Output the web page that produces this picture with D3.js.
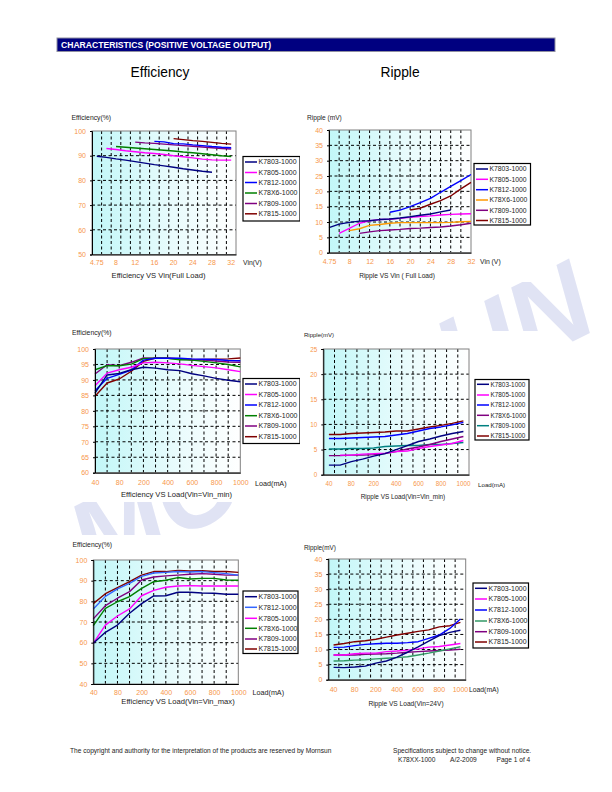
<!DOCTYPE html>
<html><head><meta charset="utf-8">
<script src="https://cdn.jsdelivr.net/npm/d3@7"></script>
<style>body{margin:0;background:#fff} svg{display:block} text{font-family:"Liberation Sans",Arial,sans-serif}</style>
</head><body><svg id="c" width="612" height="792"></svg>
<script>
// ---------- categories & tick labels ----------
const vinCats = ["4.75","6","8","10","12","14","16","18","20","22","24","26","28","30","32"];
const vinTickLabels = ["4.75","8","12","16","20","24","28","32"];
const loadCats = ["40","60","80","100","200","300","400","500","600","700","800","900","1000"];
const loadTickLabels = ["40","80","200","400","600","800","1000"];
const N = null;

// ---------- Efficiency VS Vin (Full Load) ----------
const effVin_K7803 = [89.8,89.3,88.7,88.2,87.6,87.0,86.4,85.9,85.3,84.7,84.2,83.7,83.3,N,N];
const effVin_K7805 = [N,92.9,92.5,92.0,91.6,91.2,90.9,90.5,90.0,89.6,89.1,88.6,88.3,88.2,88.2];
const effVin_K7812 = [N,N,N,N,N,N,95.8,95.6,94.9,94.8,94.4,94.1,93.7,93.4,93.2];
const effVin_K78X6 = [N,N,93.7,93.4,93.1,92.8,92.5,92.2,91.9,91.5,91.2,90.8,90.4,90.0,89.7];
const effVin_K7809 = [N,N,N,N,95.5,95.2,95.0,94.7,94.4,94.1,93.8,93.5,93.2,92.9,92.7];
const effVin_K7815 = [N,N,N,N,N,N,N,N,96.9,96.5,96.1,95.8,95.4,95.0,94.7];

// ---------- Ripple VS Vin (Full Load) ----------
const ripVin_K7803 = [8.2,9.3,9.9,10.3,10.4,10.8,11.0,11.3,11.7,12.2,12.6,13.3,13.9,N,N];
const ripVin_K7805 = [N,6.3,7.9,9.6,10.4,10.8,10.9,11.2,11.5,11.8,12.0,12.3,12.5,12.6,12.7];
const ripVin_K7812 = [N,N,N,N,N,N,13.2,13.9,15.0,16.3,17.7,19.7,21.6,23.5,25.5];
const ripVin_K78X6 = [N,N,7.2,7.8,8.9,9.2,9.6,9.8,9.8,9.8,9.8,9.8,9.9,10.1,10.2];
const ripVin_K7809 = [N,N,N,6.3,6.8,7.2,7.4,7.6,7.9,8.0,8.2,8.4,8.7,9.1,9.6];
const ripVin_K7815 = [N,N,N,N,N,N,N,N,13.9,14.5,15.8,17.0,18.5,20.8,22.9];

// ---------- Efficiency VS Load (Vin=Vin_min) ----------
const effMin_K7803 = [85.7,91.6,92.1,93.3,94.1,93.8,93.3,93.0,92.0,91.3,90.5,89.9,89.4];
const effMin_K7805 = [88.1,92.2,93.3,94.1,95.5,95.7,95.5,95.2,94.7,94.3,93.9,93.3,92.7];
const effMin_K7812 = [86.5,90.5,91.8,93.2,96.4,97.0,97.0,97.0,96.8,96.7,96.6,96.3,96.2];
const effMin_K78X6 = [93.3,94.6,94.6,95.1,96.9,97.0,97.0,96.5,96.4,96.0,95.5,95.0,94.2];
const effMin_K7809 = [91.9,94.9,94.6,95.7,97.1,97.0,97.0,96.8,96.6,96.4,96.1,95.8,95.7];
const effMin_K7815 = [84.7,89.0,90.3,92.8,96.0,97.1,97.0,96.9,96.5,96.6,96.7,96.8,97.1];

// ---------- Ripple VS Load (Vin=Vin_min) ----------
const ripMin_K7803 = [1.9,1.9,2.6,3.1,3.7,4.2,5.0,5.8,6.6,7.1,7.7,8.2,8.6];
const ripMin_K7805 = [N,3.9,3.9,4.1,4.2,4.3,4.6,4.7,5.2,5.6,5.9,6.2,6.8];
const ripMin_K7812 = [7.2,7.2,7.3,7.4,7.5,7.6,7.9,8.2,8.7,9.2,9.5,9.9,10.4];
const ripMin_K78X6 = [3.8,3.8,3.9,3.9,4.0,4.2,4.6,5.1,5.5,6.0,6.6,7.1,7.6];
const ripMin_K7809 = [5.1,5.1,5.2,5.2,5.3,5.6,5.7,5.8,5.8,6.0,6.0,6.2,6.4];
const ripMin_K7815 = [8.0,8.0,8.2,8.3,8.4,8.5,8.7,8.7,9.1,9.5,9.8,10.2,10.7];

// ---------- Efficiency VS Load (Vin=Vin_max) ----------
const effMax_K7803 = [59.7,65.0,68.5,74.2,78.9,82.6,82.7,84.4,84.4,84.0,83.9,83.4,83.4];
const effMax_K7812 = [76.3,82.4,86.0,88.7,92.1,93.7,94.0,94.4,94.2,94.4,93.9,93.4,92.7];
const effMax_K7805 = [59.7,68.5,72.9,76.3,82.7,85.3,86.8,87.4,87.6,87.4,87.4,87.4,87.4];
const effMax_K78X6 = [68.2,76.6,79.8,82.3,86.3,89.5,90.2,91.5,90.8,91.1,91.1,90.3,90.2];
const effMax_K7809 = [71.5,77.9,81.5,84.7,90.3,91.8,92.3,92.7,93.1,93.4,93.1,92.7,92.7];
const effMax_K7815 = [78.9,83.7,86.6,89.5,92.7,94.4,94.4,95.0,94.7,94.8,94.4,94.4,94.0];

// ---------- Ripple VS Load (Vin=24V) ----------
const rip24_K7803 = [4.1,4.0,4.2,4.5,5.5,6.2,7.5,9.1,10.9,12.8,14.6,15.7,16.4];
const rip24_K7805 = [8.2,8.2,8.6,8.8,8.8,9.3,9.5,9.8,10.2,10.8,11.0,11.5,12.0];
const rip24_K7812 = [10.7,10.8,11.3,11.7,11.9,12.1,12.1,12.3,12.6,13.7,14.8,17.0,20.1];
const rip24_K78X6 = [6.2,6.3,6.5,6.6,6.9,7.1,7.3,7.6,8.2,8.8,9.5,10.2,10.9];
const rip24_K7809 = [8.2,8.2,8.2,8.4,8.5,8.6,8.8,9.1,9.3,9.5,9.7,9.8,10.1];
const rip24_K7815 = [11.5,12.0,12.6,12.9,13.4,14.1,14.8,15.4,16.0,16.5,17.5,17.9,19.0];

// ---------- y tick values ----------
const effVinTicks = [50,60,70,80,90,100];
const ripVinTicks = [0,5,10,15,20,25,30,35,40];
const effMinTicks = [60,65,70,75,80,85,90,95,100];
const ripMinTicks = [0,5,10,15,20,25];
const effMaxTicks = [40,50,60,70,80,90,100];
const rip24Ticks = [0,5,10,15,20,25,30,35,40];

const C = {navy:"#000080", mag:"#ff00ff", blue:"#0000ff", green:"#008000", purple:"#800080",
           dred:"#800000", orange:"#ff9900", teal:"#008080", lblue:"#3366ff", sgreen:"#339966"};
const tickColor = "#f7964a";

const svg = d3.select("#c");
const defs = svg.append("defs");
const grad = defs.append("linearGradient").attr("id","bg").attr("x1",0).attr("x2",1).attr("y1",0).attr("y2",0);
grad.append("stop").attr("offset","0%").attr("stop-color","#c2f7f8");
grad.append("stop").attr("offset","55%").attr("stop-color","#e8fbfc");
grad.append("stop").attr("offset","100%").attr("stop-color","#ffffff");

// watermark
svg.append("text").attr("x",330).attr("y",420).attr("text-anchor","middle").attr("dominant-baseline","central")
  .attr("transform","rotate(-26.6,330,420)").attr("font-size",110).attr("font-weight","bold").attr("font-style","italic")
  .attr("fill","#e0e3f4").text("MORNSUN");

// header
svg.append("rect").attr("x",57).attr("y",38).attr("width",498).attr("height",13.5).attr("fill","#000080").attr("stroke","#9090a0").attr("stroke-width",1);
svg.append("text").attr("x",61).attr("y",48.3).attr("fill","#fff").attr("font-size",8.6).attr("font-weight","bold").text("CHARACTERISTICS (POSITIVE VOLTAGE OUTPUT)");
svg.append("text").attr("x",160).attr("y",76.5).attr("text-anchor","middle").attr("font-size",13.8).text("Efficiency");
svg.append("text").attr("x",400).attr("y",76.5).attr("text-anchor","middle").attr("font-size",13.8).text("Ripple");

function panel(p){
  const g = svg.append("g");
  g.append("rect").attr("x",p.area[0]).attr("y",p.area[1]).attr("width",p.area[2]).attr("height",p.area[3]).attr("fill","#fff");
  const x = p.band ? d3.scaleBand().domain(p.cats).range([p.x0,p.x1])
                   : d3.scalePoint().domain(p.cats).range([p.x0,p.x1]);
  const xc = c => p.band ? x(c) + x.bandwidth()/2 : x(c);
  const y = d3.scaleLinear().domain([p.yTicks[0], p.yTicks[p.yTicks.length-1]]).range([p.y1,p.y0]);
  g.append("rect").attr("x",p.x0).attr("y",p.y0).attr("width",p.x1-p.x0).attr("height",p.y1-p.y0).attr("fill","url(#bg)");
  const vx = p.band ? p.cats.slice(1).map(c=>x(c)) : p.cats.slice(1,-1).map(c=>x(c));
  g.selectAll(null).data(vx).join("line").attr("x1",d=>d).attr("x2",d=>d).attr("y1",p.y0).attr("y2",p.y1)
    .attr("stroke","#000").attr("stroke-width",1).attr("stroke-dasharray","3,2.5");
  g.selectAll(null).data(p.yTicks.slice(1,-1)).join("line").attr("x1",p.x0).attr("x2",p.x1).attr("y1",d=>y(d)).attr("y2",d=>y(d))
    .attr("stroke","#000").attr("stroke-width",1).attr("stroke-dasharray","3,2.5");
  g.append("rect").attr("x",p.x0).attr("y",p.y0).attr("width",p.x1-p.x0).attr("height",p.y1-p.y0).attr("fill","none").attr("stroke","#808080").attr("stroke-width",1);
  // series
  const line = d3.line().defined(d=>d.v!=null).x(d=>xc(d.c)).y(d=>y(d.v));
  p.series.slice().reverse().forEach(s=>{
    g.append("path").datum(p.cats.map((c,i)=>({c, v:s.values[i]}))).attr("d",line)
      .attr("fill","none").attr("stroke",s.color).attr("stroke-width",1.4).attr("stroke-linejoin","round");
  });
  // axes
  const ya = g.append("g").attr("transform",`translate(${p.x0},0)`).call(d3.axisLeft(y).tickValues(p.yTicks).tickSize(2).tickPadding(p.yPad||4));
  ya.select(".domain").attr("stroke","#000");
  ya.selectAll(".tick line").attr("stroke","#000");
  ya.selectAll("text").attr("fill",tickColor).attr("font-size",p.tickSize||7).attr("font-family","Liberation Sans, Arial, sans-serif");
  const xa = g.append("g").attr("transform",`translate(0,${p.y1})`).call(d3.axisBottom(x).tickValues(p.xLabels).tickSize(0).tickPadding(p.xPad||6));
  xa.select(".domain").attr("stroke","#000");
  xa.selectAll("text").attr("fill",tickColor).attr("font-size",p.tickSize||7).attr("font-family","Liberation Sans, Arial, sans-serif");
  // legend
  const L = p.legend;
  g.append("rect").attr("x",L.x).attr("y",L.y).attr("width",L.w).attr("height",L.h).attr("fill","#fff").attr("stroke","#000").attr("stroke-width",1.2);
  p.series.forEach((s,i)=>{
    const yy = L.rows[i];
    g.append("line").attr("x1",L.x+2).attr("x2",L.x+14).attr("y1",yy).attr("y2",yy).attr("stroke",s.color).attr("stroke-width",1.5);
    g.append("text").attr("x",L.x+15.5).attr("y",yy).attr("dy","0.35em").attr("font-size",L.fs||7).attr("fill","#222").text(s.name);
  });
  p.texts.forEach(t=>{
    g.append("text").attr("x",t.x).attr("y",t.y).attr("dy","0.35em").attr("text-anchor",t.a||"start").attr("font-size",t.s).attr("fill","#222").text(t.t);
  });
}

const names = ["K7803-1000","K7805-1000","K7812-1000","K78X6-1000","K7809-1000","K7815-1000"];

panel({area:[62,106,238,180], band:true, cats:vinCats, xLabels:vinTickLabels, x0:92, x1:236, y0:131, y1:254.5, yTicks:effVinTicks, xPad:6,
  series:[{name:names[0],values:effVin_K7803,color:C.navy},{name:names[1],values:effVin_K7805,color:C.mag},
          {name:names[2],values:effVin_K7812,color:C.blue},{name:names[3],values:effVin_K78X6,color:C.green},
          {name:names[4],values:effVin_K7809,color:C.purple},{name:names[5],values:effVin_K7815,color:C.dred}],
  legend:{x:243,y:156.5,w:57,h:64.5,rows:[162,172.5,182.5,193,203.5,213.8]},
  texts:[{t:"Efficiency(%)",x:71.5,y:117.5,s:6.8},{t:"Vin(V)",x:243,y:263,s:6.8},
         {t:"Efficiency VS Vin(Full Load)",x:158.5,y:275,s:7.6,a:"middle"}]});

panel({area:[300,106,245,176], band:false, cats:vinCats, xLabels:vinTickLabels, x0:329, x1:471, y0:130, y1:252.7, yTicks:ripVinTicks, xPad:6,
  series:[{name:names[0],values:ripVin_K7803,color:C.navy},{name:names[1],values:ripVin_K7805,color:C.mag},
          {name:names[2],values:ripVin_K7812,color:C.blue},{name:names[3],values:ripVin_K78X6,color:C.orange},
          {name:names[4],values:ripVin_K7809,color:C.purple},{name:names[5],values:ripVin_K7815,color:C.dred}],
  legend:{x:474,y:163.5,w:56.5,h:61.5,rows:[169,179.3,189.7,200,210.3,220.5],fs:6.8},
  texts:[{t:"Ripple (mV)",x:307,y:117.5,s:6.6},{t:"Vin  (V)",x:480,y:262,s:6.8},
         {t:"Ripple VS Vin ( Full Load)",x:397,y:275.5,s:6.6,a:"middle"}]});

panel({area:[62,326,238,176], band:false, cats:loadCats, xLabels:loadTickLabels, x0:95, x1:240.3, y0:349, y1:472.7, yTicks:effMinTicks, xPad:7,
  series:[{name:names[0],values:effMin_K7803,color:C.navy},{name:names[1],values:effMin_K7805,color:C.mag},
          {name:names[2],values:effMin_K7812,color:C.blue},{name:names[3],values:effMin_K78X6,color:C.green},
          {name:names[4],values:effMin_K7809,color:C.purple},{name:names[5],values:effMin_K7815,color:C.dred}],
  legend:{x:243,y:378.5,w:57,h:65,rows:[384,394.5,405,415.7,426,436.7]},
  texts:[{t:"Efficiency(%)",x:72,y:332.5,s:6.8},{t:"Load(mA)",x:255,y:483,s:7.2},
         {t:"Efficiency VS Load(Vin=Vin_min)",x:176.5,y:494.5,s:7.6,a:"middle"}]});

panel({area:[300,331,245,174], band:true, cats:loadCats, xLabels:loadTickLabels, x0:323.3, x1:469, y0:349, y1:474.7, yTicks:ripMinTicks, xPad:7, tickSize:6.3,
  series:[{name:names[0],values:ripMin_K7803,color:C.navy},{name:names[1],values:ripMin_K7805,color:C.mag},
          {name:names[2],values:ripMin_K7812,color:C.blue},{name:names[3],values:ripMin_K78X6,color:C.purple},
          {name:names[4],values:ripMin_K7809,color:C.teal},{name:names[5],values:ripMin_K7815,color:C.dred}],
  legend:{x:475,y:379.5,w:54,h:60.5,rows:[384.3,395,405,415.3,425.7,436],fs:6.4},
  texts:[{t:"Ripple(mV)",x:304,y:334.5,s:6.0},{t:"Load(mA)",x:478,y:484.5,s:6.2},
         {t:"Ripple VS Load(Vin=Vin_min)",x:403,y:497,s:6.4,a:"middle"}]});

panel({area:[62,535,238,176], band:false, cats:loadCats, xLabels:loadTickLabels, x0:93.3, x1:238.3, y0:560, y1:684, yTicks:effMaxTicks, xPad:6.5,
  series:[{name:names[0],values:effMax_K7803,color:C.navy},{name:names[2],values:effMax_K7812,color:C.lblue},
          {name:names[1],values:effMax_K7805,color:C.mag},{name:names[3],values:effMax_K78X6,color:C.green},
          {name:names[4],values:effMax_K7809,color:C.purple},{name:names[5],values:effMax_K7815,color:C.dred}],
  legend:{x:243,y:591,w:55,h:62.5,rows:[596.7,607.3,618.3,628.3,639,649]},
  texts:[{t:"Efficiency(%)",x:72.5,y:544.5,s:6.8},{t:"Load(mA)",x:252.5,y:692,s:7.2},
         {t:"Efficiency VS Load(Vin=Vin_max)",x:178,y:701.5,s:7.6,a:"middle"}]});

panel({area:[300,535,245,176], band:true, cats:loadCats, xLabels:loadTickLabels, x0:328.3, x1:465.7, y0:559, y1:679.7, yTicks:rip24Ticks, xPad:7,
  series:[{name:names[0],values:rip24_K7803,color:C.navy},{name:names[1],values:rip24_K7805,color:C.mag},
          {name:names[2],values:rip24_K7812,color:C.blue},{name:names[3],values:rip24_K78X6,color:C.sgreen},
          {name:names[4],values:rip24_K7809,color:C.purple},{name:names[5],values:rip24_K7815,color:C.dred}],
  legend:{x:473,y:583,w:55.5,h:65,rows:[588.3,599,610,621,631.7,642]},
  texts:[{t:"Ripple(mV)",x:304,y:547.5,s:6.4},{t:"Load(mA)",x:469,y:690,s:6.8},
         {t:"Ripple VS Load(Vin=24V)",x:406,y:704,s:6.6,a:"middle"}]});

// footer
const foot = [{t:"The copyright and authority for the interpretation of the products are reserved by Mornsun",x:70,y:751},
              {t:"Specifications subject to change without notice.",x:393,y:751},
              {t:"K78XX-1000",x:398,y:759.5},{t:"A/2-2009",x:450,y:759.5},{t:"Page 1 of 4",x:496.5,y:759.5}];
foot.forEach(f=>svg.append("text").attr("x",f.x).attr("y",f.y).attr("dy","0.35em").attr("font-size",6.6).attr("fill","#222").text(f.t));
</script></body></html>
